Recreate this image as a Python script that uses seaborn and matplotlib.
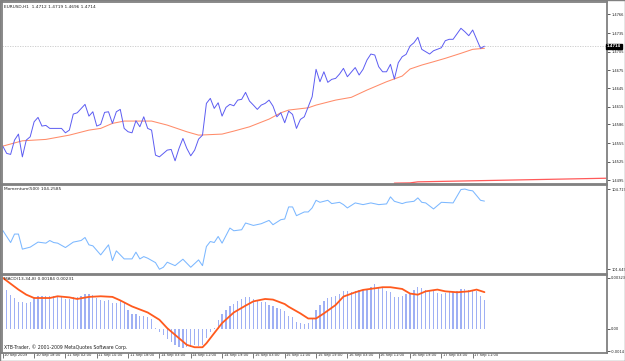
import numpy as np
import pandas as pd
import matplotlib
matplotlib.use("Agg")
import matplotlib.pyplot as plt
import matplotlib.transforms as mtransforms
import seaborn as sns

# ---------------- data ----------------
price_bar = [0, 1, 2, 3, 4, 5, 6, 7, 8, 9, 10, 11, 12, 13, 15, 16, 17, 18, 19, 21,
             22, 23, 24, 25, 26, 27, 28, 29, 30, 31, 32, 33, 34, 35, 36, 37, 38, 39, 40, 42,
             43, 44, 45, 46, 47, 48, 49, 50, 51, 52, 53, 54, 55, 56, 57, 58, 59, 60, 61, 62,
             63, 64, 65, 66, 67, 68, 69, 70, 71, 72, 73, 74, 75, 76, 77, 79, 80, 81, 82, 83,
             84, 85, 86, 87, 88, 90, 91, 92, 93, 94, 95, 96, 97, 98, 99, 100, 101, 102, 103, 104,
             105, 106, 107, 109, 110, 112, 113, 114, 115, 117, 118, 119, 120, 122, 123]
price_close = [1.45506, 1.45387, 1.45371, 1.45605, 1.45703, 1.45331, 1.45605, 1.45659, 1.45904, 1.45976,
               1.45834, 1.45845, 1.45796, 1.45796, 1.45796, 1.45724, 1.45768, 1.46030, 1.46051, 1.46189,
               1.45997, 1.46068, 1.45834, 1.45862, 1.46058, 1.46068, 1.45878, 1.46068, 1.46107, 1.45796,
               1.45741, 1.45724, 1.45921, 1.45823, 1.45986, 1.45796, 1.45768, 1.45359, 1.45331, 1.45441,
               1.45452, 1.45266, 1.45469, 1.45632, 1.45469, 1.45348, 1.45441, 1.45621, 1.45686, 1.46205,
               1.46287, 1.46123, 1.46215, 1.45997, 1.46140, 1.46189, 1.46166, 1.46259, 1.46271, 1.46385,
               1.46243, 1.46177, 1.46107, 1.46177, 1.46205, 1.46259, 1.46161, 1.45986, 1.46051, 1.45888,
               1.46079, 1.46025, 1.45796, 1.45943, 1.45986, 1.46313, 1.46762, 1.46559, 1.46722, 1.46549,
               1.46598, 1.46614, 1.46685, 1.46778, 1.46641, 1.46791, 1.46669, 1.46762, 1.46914, 1.47012,
               1.46996, 1.46804, 1.46722, 1.46722, 1.46844, 1.46603, 1.46870, 1.46968, 1.47007, 1.47143,
               1.47197, 1.47286, 1.47089, 1.47012, 1.47066, 1.47115, 1.47230, 1.47253, 1.47253, 1.47433,
               1.47377, 1.47312, 1.47405, 1.47106, 1.47140]

ma_bar = [0, 5, 11, 17, 22, 25, 28, 31, 38, 42, 47, 50, 56, 59, 63, 68,
          71, 73, 78, 80, 85, 89, 93, 98, 102, 104, 107, 110, 113, 117, 120, 123]
ma_val = [1.45506, 1.45593, 1.45616, 1.45686, 1.45768, 1.45796, 1.45878, 1.45916,
          1.45916, 1.45850, 1.45741, 1.45686, 1.45703, 1.45752, 1.45822, 1.45948,
          1.46051, 1.46096, 1.46133, 1.46177, 1.46259, 1.46304, 1.46423, 1.46559,
          1.46652, 1.46767, 1.46832, 1.46886, 1.46942, 1.47024, 1.47089, 1.47106]

long_ma_bar = [100, 104, 106, 154]
long_ma_val = [1.44901, 1.44905, 1.44922, 1.44981]

mom_bar = [0, 2, 3, 4, 5, 7, 9, 11, 12, 13, 14, 16, 18, 20, 21, 22, 23, 25, 27, 28,
           29, 31, 33, 34, 35, 36, 37, 39, 40, 41, 42, 44, 46, 48, 50, 51, 52, 53, 54, 55,
           56, 58, 59, 61, 62, 64, 66, 68, 69, 71, 72, 73, 74, 75, 77, 78, 79, 80, 81, 83,
           84, 86, 87, 88, 90, 92, 94, 96, 98, 99, 100, 102, 103, 105, 106, 107, 108, 110, 112, 115,
           117, 118, 119, 120, 122, 123]
mom_val = [103.138, 102.677, 103.000, 103.000, 102.424, 102.501, 102.693, 102.654, 102.754, 102.677,
           102.654, 102.486, 102.693, 102.754, 102.869, 102.589, 102.551, 102.205, 102.589, 101.987,
           102.359, 102.052, 102.052, 102.309, 102.052, 102.140, 102.079, 101.910, 101.657, 101.733,
           101.925, 101.795, 102.040, 101.733, 102.014, 101.795, 102.524, 102.716, 102.677, 102.908,
           102.654, 103.230, 103.126, 103.165, 103.422, 103.330, 103.395, 103.522, 103.357, 103.549,
           103.575, 104.036, 104.036, 103.702, 103.844, 103.844, 103.998, 104.289, 104.212, 104.289,
           104.163, 104.212, 104.124, 103.998, 104.189, 104.124, 104.189, 104.124, 104.151, 104.420,
           104.251, 104.163, 104.212, 104.251, 104.381, 104.212, 104.189, 103.959, 104.212, 104.189,
           104.700, 104.719, 104.673, 104.650, 104.289, 104.2585]

hist_bar = list(range(1, 124))
hist_val = [0.00242, 0.00211, 0.00194, 0.00167, 0.00169, 0.00163, 0.00169, 0.00201, 0.00209, 0.00209,
            0.00209, 0.00209, 0.00209, 0.00209, 0.00201, 0.00188, 0.00188, 0.00201, 0.00201, 0.00205,
            0.00222, 0.00220, 0.00215, 0.00194, 0.00184, 0.00177, 0.00179, 0.00163, 0.00163, 0.00173,
            0.00163, 0.00120, 0.00095, 0.00095, 0.00078, 0.00078, 0.00074, 0.00061, 0.00004, -0.00017,
            -0.00038, -0.00063, -0.00080, -0.00101, -0.00116, -0.00122, -0.00116, -0.00112, -0.00101, -0.00108,
            -0.00101, -0.00059, -0.00023, 0.00004, 0.00057, 0.00093, 0.00116, 0.00141, 0.00156, 0.00173,
            0.00188, 0.00201, 0.00201, 0.00188, 0.00179, 0.00169, 0.00169, 0.00152, 0.00141, 0.00131,
            0.00125, 0.00110, 0.00082, 0.00076, 0.00044, 0.00034, 0.00030, 0.00034, 0.00065, 0.00118,
            0.00150, 0.00175, 0.00192, 0.00203, 0.00209, 0.00220, 0.00241, 0.00239, 0.00230, 0.00239,
            0.00245, 0.00245, 0.00249, 0.00266, 0.00281, 0.00266, 0.00262, 0.00241, 0.00230, 0.00203,
            0.00203, 0.00209, 0.00217, 0.00222, 0.00247, 0.00264, 0.00258, 0.00247, 0.00241, 0.00247,
            0.00226, 0.00222, 0.00226, 0.00236, 0.00230, 0.00236, 0.00251, 0.00251, 0.00247, 0.00236,
            0.00236, 0.00205, 0.00184]

sig_bar = [0, 4, 6, 8, 12, 14, 17, 19, 22, 25, 28, 30, 33, 37, 40, 42, 45, 47, 49, 51,
           52, 54, 56, 59, 62, 64, 67, 69, 72, 73, 76, 78, 80, 82, 85, 87, 90, 92, 95, 97,
           99, 102, 104, 106, 108, 111, 113, 116, 119, 121, 123]
sig_val = [0.00321, 0.00247, 0.00215, 0.00194, 0.00194, 0.00205, 0.00198, 0.00188, 0.00201, 0.00205,
           0.00201, 0.00179, 0.00141, 0.00103, 0.00057, 0.00004, -0.00059, -0.00101, -0.00116, -0.00116,
           -0.00091, -0.00027, 0.00036, 0.00103, 0.00146, 0.00173, 0.00188, 0.00184, 0.00156, 0.00139,
           0.00097, 0.00065, 0.00065, 0.00097, 0.00150, 0.00203, 0.00230, 0.00245, 0.00255, 0.00262,
           0.00262, 0.00251, 0.00222, 0.00215, 0.00236, 0.00247, 0.00236, 0.00230, 0.00236, 0.00247,
           0.00231]

time_ticks = [0, 8, 16, 24, 32, 40, 48, 56, 64, 72, 80, 88, 96, 104, 112, 120]
time_labels = ["10 Sep 2009", "10 Sep 18:00", "11 Sep 02:00", "11 Sep 10:00", "11 Sep 18:00",
               "14 Sep 03:00", "14 Sep 11:00", "14 Sep 19:00", "15 Sep 03:00", "15 Sep 11:00",
               "15 Sep 19:00", "16 Sep 03:00", "16 Sep 11:00", "16 Sep 19:00", "17 Sep 03:00",
               "17 Sep 11:00"]
price_ticks = [1.4766, 1.4735, 1.4705, 1.4675, 1.4645, 1.4615, 1.4586, 1.4555, 1.4525, 1.4495]
mom_ticks = [104.719, 101.649]
macd_ticks = [0.00323, 0.0, -0.0014]
macd_tick_labels = ["0.00323", "0.00", "-0.0014"]
last_price = 1.4714
title_text = "EURUSD,H1  1.4712 1.4719 1.4696 1.4714"
mom_text = "Momentum(500) 104.2585"
macd_text = "MACD(13,34,8) 0.00184 0.00231"
copyright_text = "XTB-Trader, \u00a9 2001-2009 MetaQuotes Software Corp."

# ---------------- style ----------------
sns.set_style("white")
plt.rcParams["font.family"] = ["DejaVu Sans"]

W, H = 625, 361
fig = plt.figure(figsize=(W / 100, H / 100), dpi=100)
fig.patch.set_facecolor("white")

def fax(x0, y0, x1, y1):
    return fig.add_axes([x0 / W, 1 - y1 / H, (x1 - x0) / W, (y1 - y0) / H])

ax1 = fax(2, 2, 607, 183.5)
ax2 = fax(2, 184.5, 607, 273.5)
ax3 = fax(2, 274.5, 607, 352.5)

XL = (-0.2, 154.3)
BORDER = "#808080"
FS = 2.6

for ax in (ax1, ax2, ax3):
    ax.set_facecolor("white")
    ax.set_xlim(*XL)
    for s in ax.spines.values():
        s.set_color(BORDER)
        s.set_linewidth(1.3)
    ax.yaxis.tick_right()
    ax.tick_params(axis="y", which="both", direction="out", length=2.2, width=0.6,
                   color="#404040", labelsize=FS, pad=0.8, labelcolor="#202020",
                   left=False, right=True)
    ax.tick_params(axis="x", which="both", bottom=False, labelbottom=False)
    ax.set_xlabel("")
    ax.set_ylabel("")

# ---- main price panel ----
ax1.set_ylim(1.44895, 1.47863)
ax1.axhline(last_price, color="#c8c8c8", lw=0.6, ls=(0, (1.5, 1.5)), zorder=1)
sns.lineplot(x=long_ma_bar, y=long_ma_val, ax=ax1, color="#ff5a5a", lw=0.9, sort=False,
             estimator=None)
sns.lineplot(x=ma_bar, y=ma_val, ax=ax1, color="#ff8c6a", lw=0.75, sort=False, estimator=None)
sns.lineplot(x=price_bar, y=price_close, ax=ax1, color="#5c5cf2", lw=0.7, sort=False,
             estimator=None)
ax1.set_yticks(price_ticks)
ax1.set_yticklabels([f"{v:.4f}" for v in price_ticks])
ax1.set_xlim(*XL)
ax1.text(1.0, last_price, f"{last_price:.4f}", transform=ax1.get_yaxis_transform(),
         ha="left", va="center", fontsize=FS, color="white", fontweight="bold",
         bbox=dict(boxstyle="square,pad=0.15", fc="black", ec="black"))
ax1.text(0.003, 0.985, title_text, transform=ax1.transAxes, ha="left", va="top",
         fontsize=3.1, color="#202020")

# ---- momentum panel ----
ax2.set_ylim(101.495, 104.892)
sns.lineplot(x=mom_bar, y=mom_val, ax=ax2, color="#7cb8ff", lw=0.75, sort=False, estimator=None)
ax2.set_yticks(mom_ticks)
ax2.set_yticklabels([f"{v:.3f}" for v in mom_ticks])
ax2.set_xlim(*XL)
ax2.text(0.003, 0.97, mom_text, transform=ax2.transAxes, ha="left", va="top",
         fontsize=3.1, color="#202020")

# ---- MACD panel ----
ax3.set_ylim(-0.00149, 0.00342)
ax3.bar(hist_bar, hist_val, width=0.32, color="#9fb0f4", linewidth=0)
sns.lineplot(x=sig_bar, y=sig_val, ax=ax3, color="#ff5a1e", lw=1.3, sort=False, estimator=None)
ax3.set_yticks(macd_ticks)
ax3.set_yticklabels(macd_tick_labels)
ax3.set_xlim(*XL)
ax3.text(0.003, 0.97, macd_text, transform=ax3.transAxes, ha="left", va="top",
         fontsize=3.1, color="#202020")
ax3.text(0.003, 0.03, copyright_text, transform=ax3.transAxes, ha="left", va="bottom",
         fontsize=3.3, color="#202020")

ax3.set_xticks(time_ticks)
ax3.set_xticklabels(time_labels)
ax3.tick_params(axis="x", which="both", bottom=True, labelbottom=True, direction="out",
                length=3.5, width=0.5, color="#404040", labelsize=FS, pad=0,
                labelcolor="#202020")
offset = mtransforms.ScaledTranslation(1.5 / 100, 4.5 / 100, fig.dpi_scale_trans)
for lab in ax3.get_xticklabels():
    lab.set_horizontalalignment("left")
    lab.set_transform(lab.get_transform() + offset)

# outer frame
fig.add_artist(plt.Rectangle((0, 0), 1, 1, transform=fig.transFigure, fill=False,
                             ec=BORDER, lw=1.0))

fig.savefig("out.png", dpi=100, facecolor="white")
